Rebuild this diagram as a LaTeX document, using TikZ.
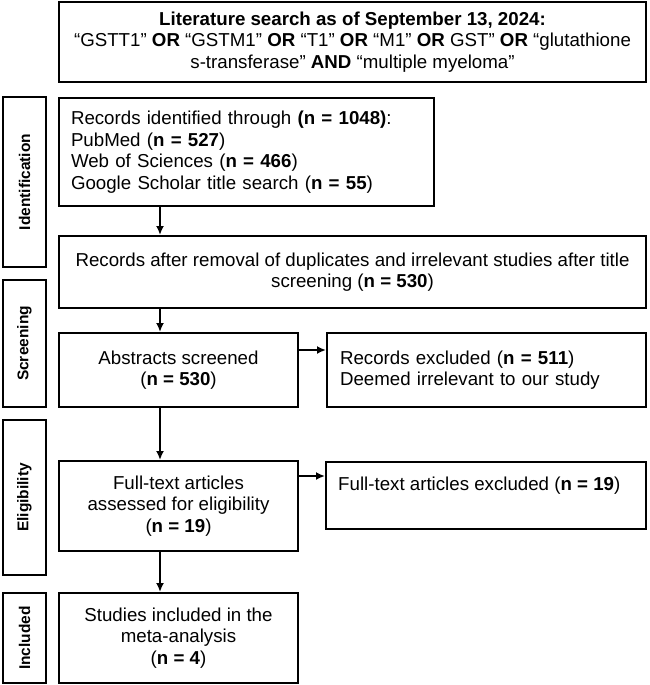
\documentclass[tikz,border=0pt]{standalone}
\usepackage{fontspec}
\setmainfont{Liberation Sans}
\usetikzlibrary{arrows.meta}
\newcommand\mainfs{\fontsize{18.7}{21.5}\selectfont}
\newcommand\sidefs{\fontsize{15.5}{18}\selectfont\bfseries}
\begin{document}
\begin{tikzpicture}[x=1pt,y=-1pt,
  box/.style={draw, line width=2pt, rectangle, inner sep=0pt, font=\mainfs, align=center},
  side/.style={draw, line width=2pt, rectangle, inner sep=0pt, font=\sidefs, rotate=90, minimum height=43pt},
  arr/.style={line width=2pt, -{Latex[length=9pt,width=8pt]}}
]
\useasboundingbox (0,0) rectangle (649,685);
\fill[white] (0,0) rectangle (649,685);

\node[box, minimum width=587pt, minimum height=80pt] (top) at (352.5,42)
  {\textbf{Literature search as of September 13, 2024:}\\
   “GSTT1” \textbf{OR} “GSTM1” \textbf{OR} “T1” \textbf{OR} “M1” \textbf{OR} GST” \textbf{OR} “glutathione\\
   s-transferase” \textbf{AND} “multiple myeloma”};

\node[box, minimum width=375pt, minimum height=108pt, text width=351pt, align=left] (ri) at (246.5,152)
  {Records identified through \textbf{(n = 1048)}:\\
   PubMed (\textbf{n = 527})\\
   Web of Sciences (\textbf{n = 466})\\
   Google Scholar title search (\textbf{n = 55})};

\node[box, minimum width=587pt, minimum height=72pt] (ra) at (352.5,272)
  {Records after removal of duplicates and irrelevant studies after title\\
   screening (\textbf{n = 530})};

\node[box, minimum width=239pt, minimum height=74pt] (ab) at (178.5,370)
  {Abstracts screened\\(\textbf{n = 530})};

\node[box, minimum width=319pt, minimum height=74pt, text width=293pt, align=left] (rex) at (486.5,370)
  {Records excluded (\textbf{n = 511})\\Deemed irrelevant to our study};

\node[box, minimum width=239pt, minimum height=90pt] (fta) at (178.5,506)
  {Full-text articles\\assessed for eligibility\\(\textbf{n = 19})};

\node[box, minimum width=320pt, minimum height=67pt] (fte) at (486,495.5) {};
\node[font=\mainfs, anchor=west, inner sep=0pt] (ftet) at ([xshift=13pt,yshift=-25pt]fte.north west)
  {Full-text articles excluded (\textbf{n = 19})};

\node[box, minimum width=239pt, minimum height=90pt] (st) at (178.5,638)
  {Studies included in the\\meta-analysis\\(\textbf{n = 4})};

\node[side, minimum width=170pt] (sid) at (24.5,182) {Identification};
\node[side, minimum width=127pt] (ssc) at (24.5,343.5) {Screening};
\node[side, minimum width=155pt] (sel) at (24.5,497.5) {Eligibility};
\node[side, minimum width=90pt] (sin) at (24.5,638) {Included};

\coordinate (colx) at (160,0);
\draw[arr] (ri.south -| colx) -- (ra.north -| colx);
\draw[arr] (ra.south -| colx) -- (ab.north -| colx);
\draw[arr] (ab.south -| colx) -- (fta.north -| colx);
\draw[arr] (fta.south -| colx) -- (st.north -| colx);

\coordinate (h1) at ([yshift=-18pt]ab.north east);
\draw[arr] (h1) -- (h1 -| rex.west);
\coordinate (h2) at ([yshift=-16pt]fta.north east);
\draw[arr] (h2) -- (h2 -| fte.west);
\end{tikzpicture}
\end{document}
